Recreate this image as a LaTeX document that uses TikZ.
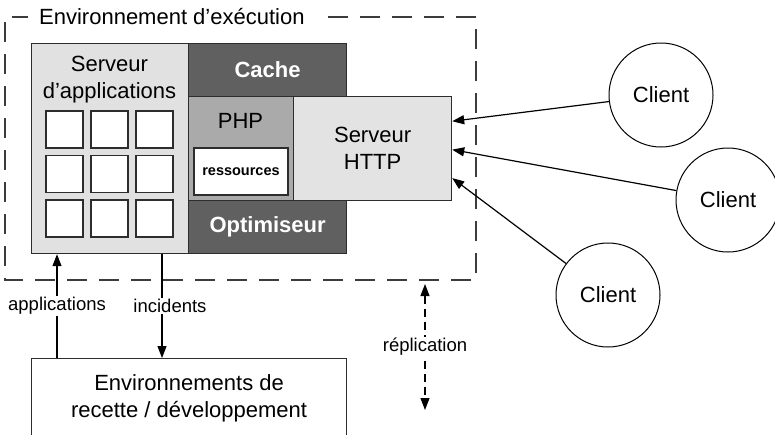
\documentclass[tikz,border=0pt]{standalone}
\usepackage{fontspec}
\setmainfont{Liberation Sans}
\usepackage{tikz}
\usetikzlibrary{arrows.meta, calc}

\begin{document}
\begin{tikzpicture}[x=1pt,y=1pt,yscale=-1,
  box/.style={draw={rgb, 255:red, 45; green, 45; blue, 45 }, line width=1.2pt, inner sep=0pt, anchor=north west},
  cell/.style={draw={rgb, 255:red, 45; green, 45; blue, 45 }, line width=1.2pt, fill=white, minimum size=37, inner sep=0pt},
  lbl/.style={font=\fontsize{22}{27}\selectfont, align=center, inner sep=0.75pt},
  boldlbl/.style={font=\fontsize{22}{26}\selectfont\bfseries, color=white, inner sep=0.75pt},
  small/.style={font=\fontsize{18.5}{22}\selectfont, fill=white, inner sep=1.5pt},
  client/.style={draw, circle, line width=1pt, minimum size=104, inner sep=0pt, font=\fontsize{22}{26}\selectfont},
  tip/.style={line width=1.2pt, -{Triangle[length=12pt,width=9pt]}},
  envline/.style={draw={rgb, 255:red, 60; green, 60; blue, 60 }, line width=1.4pt, dash pattern=on 20pt off 12pt}]
\useasboundingbox (0,0) rectangle (775,434);

% Environnement d'execution
\node [lbl, anchor=west, inner sep=0pt] (envtitle) at (39,17) {Environnement d’exécution};
\draw [envline] ($(envtitle.east)+(23,0)$) -- (476,17) -- (476,280) -- (5,280) -- (5,17) -- ($(envtitle.west)+(-11,0)$);

% Serveur d'applications
\node [box, fill={rgb, 255:red, 225; green, 225; blue, 225 }, minimum width=157, minimum height=210] (appsrv) at (31,43) {};
\node [lbl] (appsrvlbl) at (109.5,80) {Serveur\\d’applications};
\foreach \i in {0,1,2}
  \foreach \j in {0,1,2}
    \node [cell] (cell\i\j) at ({64.5+45*\i},{129.5+44.5*\j}) {};

% Cache, PHP, Optimiseur
\node [box, fill={rgb, 255:red, 96; green, 96; blue, 96 }, minimum width=158, minimum height=53] (cache) at (188,43) {};
\node [boldlbl] (cachelbl) at (cache.center) {Cache};
\node [box, fill={rgb, 255:red, 170; green, 170; blue, 170 }, minimum width=105, minimum height=104] (php) at (188,96) {};
\node [lbl] (phplbl) at (240.5,121) {PHP};
\node [draw={rgb, 255:red, 45; green, 45; blue, 45 }, line width=1.2pt, fill=white, minimum width=94, minimum height=47, inner sep=0pt,
  font=\fontsize{14.5}{17}\selectfont\bfseries] (ress) at (241,171.5) {ressources};
\node [box, fill={rgb, 255:red, 96; green, 96; blue, 96 }, minimum width=158, minimum height=53] (optim) at (188,200) {};
\node [boldlbl] (optimlbl) at (optim.center) {Optimiseur};

% Serveur HTTP
\node [box, fill={rgb, 255:red, 227; green, 227; blue, 227 }, minimum width=158, minimum height=104] (http) at (293,96) {};
\node [lbl] (httplbl) at (http.center) {Serveur\\HTTP};

% Clients
\node [client] (client1) at (661,95) {Client};
\node [client] (client2) at (728,200) {Client};
\node [client] (client3) at (608,295) {Client};
\coordinate (h1) at ($(http.north east)!0.24!(http.south east)$);
\coordinate (h2) at ($(http.north east)!0.51!(http.south east)$);
\coordinate (h3) at ($(http.north east)!0.78!(http.south east)$);
\draw [tip] (client1) -- (h1);
\draw [tip] (client2) -- (h2);
\draw [tip] (client3) -- (h3);

% Environnements de recette
\node [box, minimum width=315, minimum height=80, lbl] (recette) at (31,358) {Environnements de\\recette / développement};
\draw [tip] ($(recette.north west)+(26,0)$) -- node [small] (applbl) {applications} ($(appsrv.south west)+(26,0)$);
\draw [tip] ($(appsrv.south west)+(131,0)$) -- node [small, xshift=8] (inclbl) {incidents} ($(recette.north west)+(131,0)$);

% Replication
\coordinate (reptop) at (425,284);
\coordinate (repbot) at (425,410);
\draw [line width=1.2pt, dash pattern=on 8pt off 5pt, {Triangle[length=12pt,width=9pt]}-{Triangle[length=12pt,width=9pt]}] (reptop) -- node [small] (replbl) {réplication} (repbot);

\end{tikzpicture}
\end{document}
